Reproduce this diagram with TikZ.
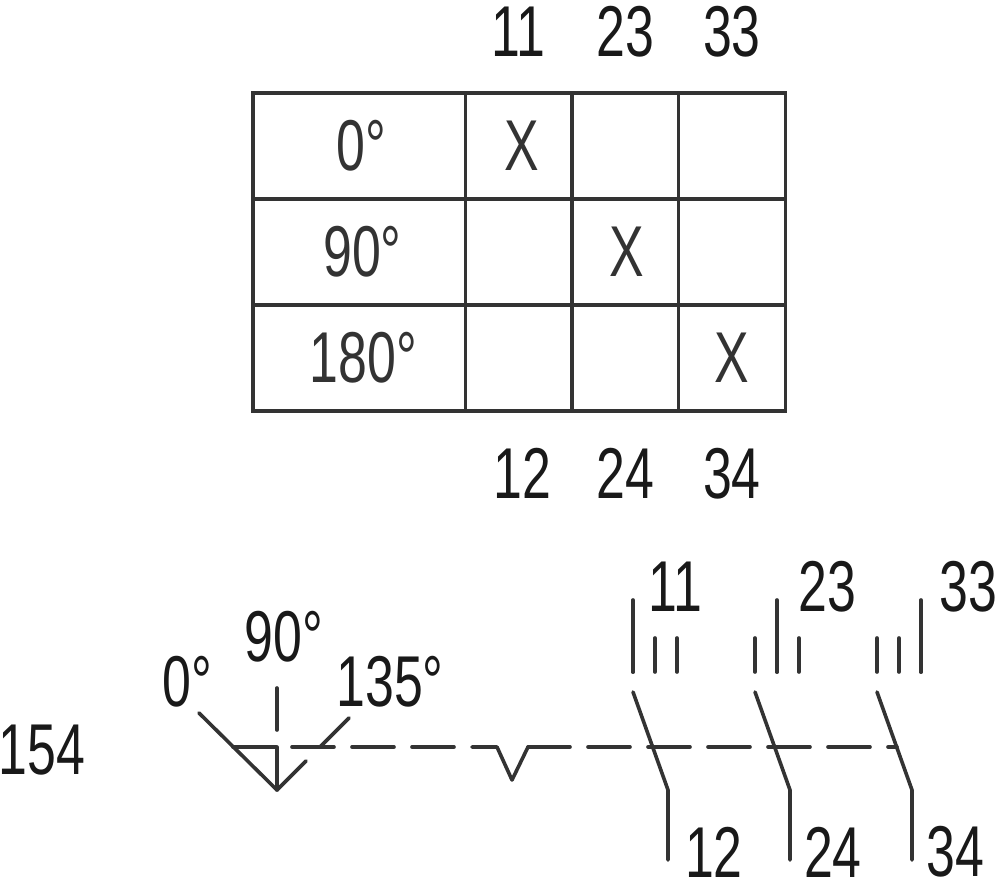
\documentclass[tikz,border=0pt]{standalone}
\usepackage{fontspec}
\setmainfont[FakeStretch=0.72]{Liberation Sans}
\usetikzlibrary{positioning}
\tikzset{
  cell/.style={draw, line width=2.7pt, color=black!80, minimum height=79.5pt, inner sep=0pt, outer sep=0pt, font=\fontsize{54}{54}\selectfont},
  wide/.style={cell, minimum width=159.25pt},
  narrow/.style={cell, minimum width=80pt},
  lbl/.style={inner sep=0pt, font=\fontsize{54}{54}\selectfont},
  wire/.style={line width=2.7pt, color=black!80, line cap=round, line join=round}
}
\begin{document}
\begin{tikzpicture}[x=0.75pt, y=-0.75pt, node distance=0pt, text=black!90]
  \useasboundingbox (0,0) rectangle (1000,881);
  % table
  \node[wide, anchor=north west] (r1) at (253,93) {\hspace*{3pt}0°};
  \node[narrow, right=of r1] (a1) {\hspace*{4pt}X};
  \node[narrow, right=of a1] (b1) {};
  \node[narrow, right=of b1] (c1) {};
  \node[wide, below=of r1] (r2) {\hspace*{5pt}90°};
  \node[narrow, right=of r2] (a2) {};
  \node[narrow, right=of a2] (b2) {\hspace*{2pt}X};
  \node[narrow, right=of b2] (c2) {};
  \node[wide, below=of r2] (r3) {\hspace*{6pt}180°};
  \node[narrow, right=of r3] (a3) {};
  \node[narrow, right=of a3] (b3) {};
  \node[narrow, right=of b3] (c3) {X};
  \node[lbl, above=27pt of a1] (t11) {11};
  \node[lbl, above=27pt of b1] (t23) {23};
  \node[lbl, above=27pt of c1] (t33) {33};
  \node[lbl, below=28pt of a3, xshift=3pt] (t12) {12};
  \node[lbl, below=28pt of b3] (t24) {24};
  \node[lbl, below=28pt of c3] (t34) {34};

  % cam
  \node[lbl] (n154) at (42,750) {154};
  \node[lbl] (d0) at (187,682) {0°};
  \node[lbl] (d90) at (284,637) {90°};
  \node[lbl] (d135) at (390,682) {135°};
  \coordinate (tip) at (277,790);
  \draw[wire] (199,713) -- (tip) -- (306,761);
  \draw[wire] (277,747) -- (tip);
  \draw[wire] (277,688) -- (277,730);
  \draw[wire] (320,747) -- (349,718);
  % dashed link
  \draw[wire] (233,747) -- (276,747);
  \foreach \x in {292,352,412,528,588,648,708,768,828}
    \draw[wire] (\x,747) -- ++(42,0);
  \draw[wire] (888,747) -- (897,747);
  \draw[wire] (472,747) -- (497,747) -- (512,780) -- (528,747);

  % contacts
  \foreach \x/\s in {633/0,755/1,877/2} {
    \foreach \i in {0,1,2}
      \draw[wire] (\x+\i*22,638) -- (\x+\i*22,672);
    \draw[wire] (\x+\s*22,600) -- (\x+\s*22,672);
    \draw[wire] (\x,692) -- (\x+35,790) -- (\x+35,860);
  }
  \node[lbl] (u11) at (675,587) {11};
  \node[lbl] (u23) at (827,587) {23};
  \node[lbl] (u33) at (968,587) {33};
  \node[lbl] (v12) at (714,852) {12};
  \node[lbl] (v24) at (833,852) {24};
  \node[lbl] (v34) at (955,852) {34};
\end{tikzpicture}
\end{document}
